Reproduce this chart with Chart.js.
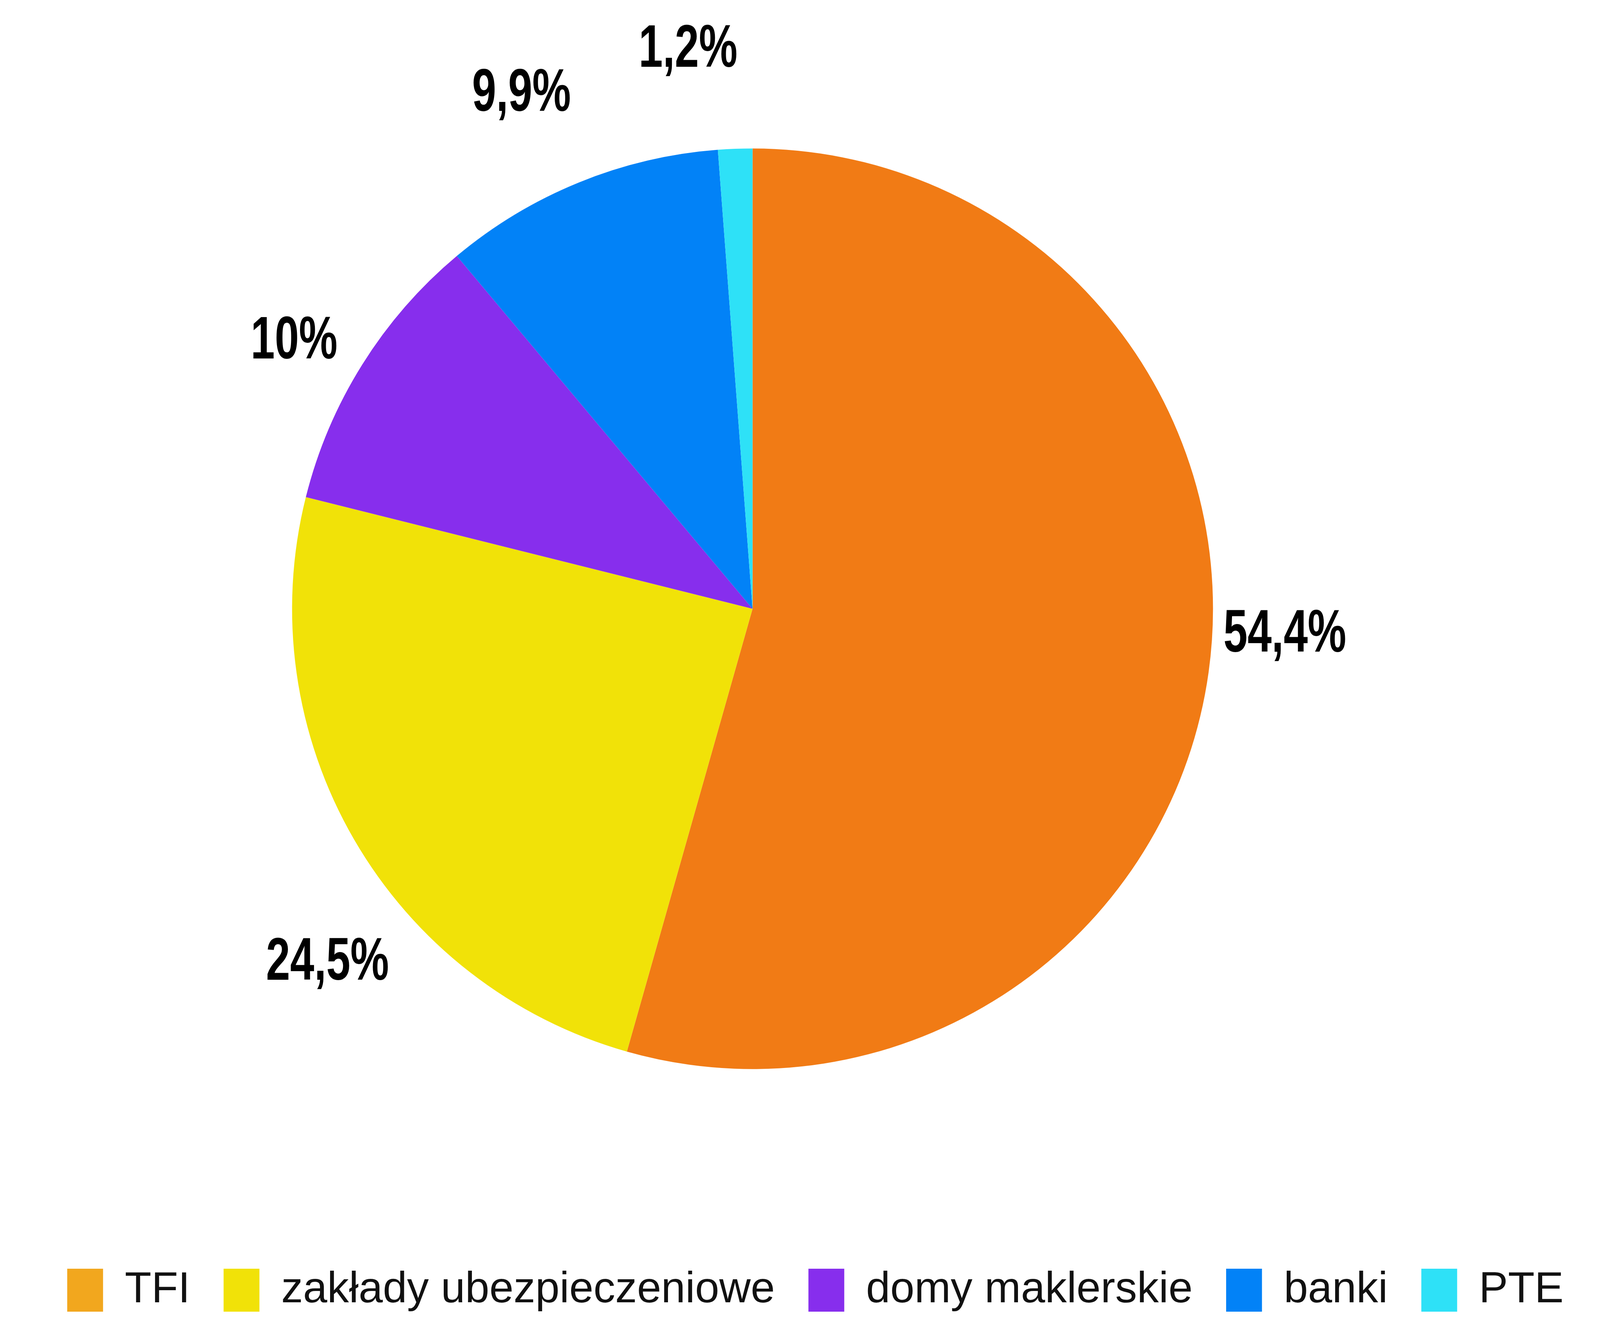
<!DOCTYPE html>
<html lang="pl">
<head>
<meta charset="utf-8">
<title>Struktura</title>
<script src="https://cdn.jsdelivr.net/npm/chart.js@4.4.1/dist/chart.umd.min.js"></script>
<style>
  html, body { margin: 0; padding: 0; background: #fff; overflow: hidden; }
  #wrap { width: 100vw; height: 100vh; }
</style>
</head>
<body>
<div id="wrap"><canvas id="chart"></canvas></div>
<script>
const categories = ['TFI', 'zakłady ubezpieczeniowe', 'domy maklerskie', 'banki', 'PTE'];
const shares = [54.4, 24.5, 10, 9.9, 1.2];
const sliceColors = ['#f17b15', '#f1e208', '#872eed', '#0282f7', '#2ee1f7'];
const legendColors = ['#f2a71e', '#f1e208', '#872eed', '#0282f7', '#2ee1f7'];

// layout numbers are measured on a 4777 x 3429 picture, scaled per axis to the window
const W = window.innerWidth, H = window.innerHeight;
const ux = W / 4777, uy = H / 3429;
const ur = Math.sqrt(ux * uy);

const legendFont = 130 * ux;
const legendBoxH = 110 * uy;
const legendPad = 100 * ux;
const itemH = Math.max(legendFont, legendBoxH);
const pieBottom = 2832 * uy;
const legendGap = 3304 * uy - itemH / 2 - legendPad - pieBottom - 1.2;
const bottomPad = H - (pieBottom + 1.2 + legendGap + itemH + legendPad + 10);

const formatShare = v => String(v).replace('.', ',') + '%';

// percentage labels outside the slices, narrow bold type
const outsideLabels = {
  id: 'outsideLabels',
  afterDatasetsDraw(chart) {
    const ctx = chart.ctx;
    const arcs = chart.getDatasetMeta(0).data;
    const squeeze = 0.84 * ux / uy;
    ctx.save();
    ctx.font = 'bold ' + (154 * uy) + 'px "Liberation Sans", Arial, sans-serif';
    ctx.fillStyle = '#000';
    ctx.textAlign = 'center';
    ctx.textBaseline = 'middle';
    arcs.forEach((arc, i) => {
      const p = arc.getProps(['x', 'y', 'startAngle', 'endAngle', 'outerRadius'], true);
      const a = (p.startAngle + p.endAngle) / 2 - 5.5 * Math.PI / 180;
      const text = formatShare(shares[i]);
      const half = ctx.measureText(text).width * 0.84 / 2 / uy;
      const d = (p.outerRadius / ur) * 1.12 + 0.9 * half * Math.abs(Math.cos(a));
      ctx.save();
      ctx.translate(p.x + Math.cos(a) * d * ux, p.y + Math.sin(a) * d * uy);
      ctx.scale(squeeze, 1);
      ctx.fillText(text, 0, 0);
      ctx.restore();
    });
    ctx.restore();
  }
};

new Chart(document.getElementById('chart'), {
  type: 'pie',
  data: {
    labels: categories,
    datasets: [{
      data: shares,
      backgroundColor: sliceColors,
      borderWidth: 0,
      radius: 1273 * ur
    }]
  },
  options: {
    responsive: true,
    maintainAspectRatio: false,
    animation: false,
    layout: { padding: { top: 286 * uy, left: 92 * ux, right: 0, bottom: bottomPad } },
    plugins: {
      tooltip: { enabled: false },
      // empty title on the right just pushes the pie a bit to the left
      title: { display: true, position: 'right', fullSize: false, text: ' ', font: { size: 1 }, padding: 187 * ux },
      legend: {
        position: 'bottom',
        // empty legend title = gap between pie and legend row
        title: { display: true, text: ' ', font: { size: 1 }, padding: { top: legendGap, bottom: 0 } },
        labels: {
          boxWidth: 107 * ux,
          boxHeight: legendBoxH,
          padding: legendPad,
          color: '#111',
          font: { size: legendFont, family: '"Liberation Sans", Arial, sans-serif' },
          generateLabels(chart) {
            const items = Chart.overrides.pie.plugins.legend.labels.generateLabels(chart);
            items.forEach((it, i) => { it.fillStyle = legendColors[i]; it.lineWidth = 0; });
            return items;
          }
        }
      }
    }
  },
  plugins: [outsideLabels]
});
</script>
</body>
</html>
